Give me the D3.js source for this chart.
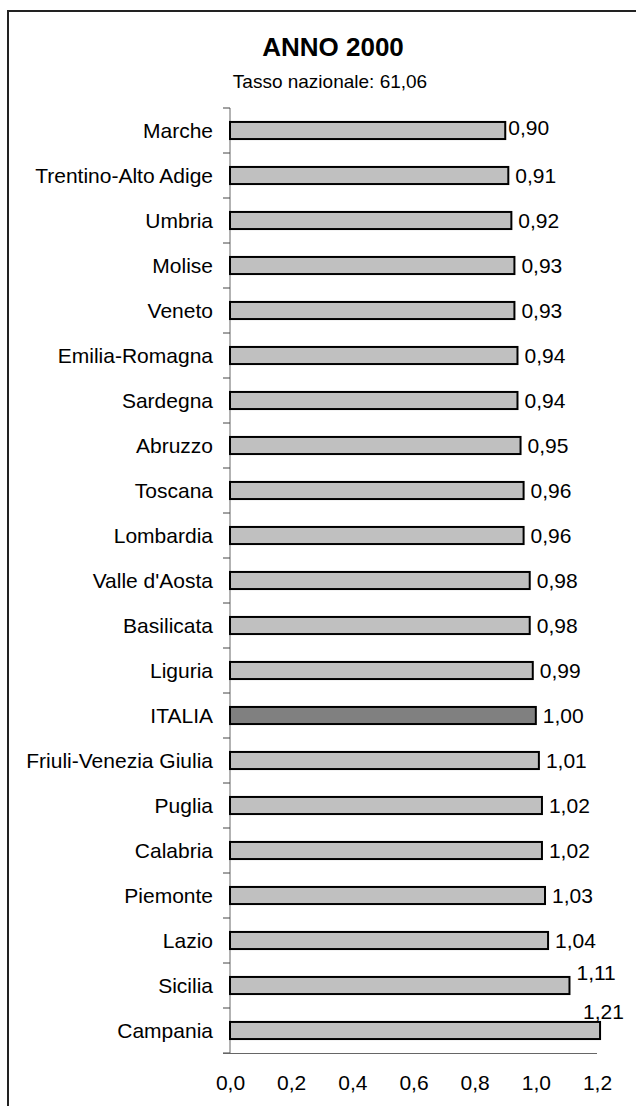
<!DOCTYPE html>
<html>
<head>
<meta charset="utf-8">
<script src="https://cdn.jsdelivr.net/npm/d3@7"></script>
<style>
  body { margin: 0; background: #fff; }
  svg { display: block; font-family: "Liberation Sans", Arial, sans-serif; }
</style>
</head>
<body>
<svg id="chart" width="636" height="1106"></svg>
<script>
// regions, ordered as in the chart (top to bottom)
var regions = ["Marche", "Trentino-Alto Adige", "Umbria", "Molise", "Veneto",
  "Emilia-Romagna", "Sardegna", "Abruzzo", "Toscana", "Lombardia",
  "Valle d'Aosta", "Basilicata", "Liguria", "ITALIA", "Friuli-Venezia Giulia",
  "Puglia", "Calabria", "Piemonte", "Lazio", "Sicilia", "Campania"];

// ratio to the national rate
var values = [0.90, 0.91, 0.92, 0.93, 0.93, 0.94, 0.94, 0.95, 0.96, 0.96,
  0.98, 0.98, 0.99, 1.00, 1.01, 1.02, 1.02, 1.03, 1.04, 1.11, 1.21];

var xTicks = [0, 0.2, 0.4, 0.6, 0.8, 1.0, 1.2];

var title = "ANNO 2000";
var subtitle = "Tasso nazionale: 61,06";

var data = regions.map(function (r, i) { return { name: r, value: values[i] }; });

var svg = d3.select("#chart");

// outer frame (only top and left edges show inside the picture)
svg.append("rect")
  .attr("x", 8).attr("y", 11)
  .attr("width", 800).attr("height", 1300)
  .attr("fill", "none")
  .attr("stroke", "#222")
  .attr("stroke-width", 2);

// titles
svg.append("text")
  .attr("x", 333).attr("y", 56)
  .attr("text-anchor", "middle")
  .attr("font-size", 26)
  .attr("font-weight", "bold")
  .text(title);

svg.append("text")
  .attr("x", 330).attr("y", 88)
  .attr("text-anchor", "middle")
  .attr("font-size", 19)
  .text(subtitle);

// scales
var x = d3.scaleLinear().domain([0, 1.2]).range([230, 597]);
var y = d3.scaleBand().domain(regions).range([108, 1053])
  .paddingInner(0.62).paddingOuter(0.31);

var comma = function (f) { return function (v) { return d3.format(f)(v).replace(".", ","); }; };

// y axis: line plus ticks between categories
var bounds = regions.map(function (r) { return y(r) - y.step() * y.paddingInner() / 2; });
bounds.push(1053);
svg.append("line")
  .attr("x1", 230).attr("x2", 230)
  .attr("y1", 108).attr("y2", 1053)
  .attr("stroke", "#666").attr("stroke-width", 1);
svg.selectAll(".ytick")
  .data(bounds)
  .enter()
  .append("line")
  .attr("class", "ytick")
  .attr("x1", 223).attr("x2", 230)
  .attr("y1", function (d) { return d; })
  .attr("y2", function (d) { return d; })
  .attr("stroke", "#444").attr("stroke-width", 1);

// category labels
svg.selectAll(".cat")
  .data(data)
  .enter()
  .append("text")
  .attr("class", "cat")
  .attr("x", 213)
  .attr("y", function (d) { return y(d.name) + y.bandwidth() / 2; })
  .attr("dy", "0.35em")
  .attr("text-anchor", "end")
  .attr("font-size", 21)
  .text(function (d) { return d.name; });

// x axis
var xAxis = svg.append("g")
  .attr("transform", "translate(0,1053)")
  .call(d3.axisBottom(x).tickValues(xTicks).tickSize(0).tickPadding(22).tickFormat(comma(".1f")));
xAxis.select(".domain").attr("d", "M223,0.5H597").attr("stroke", "#666");
xAxis.selectAll("text")
  .attr("font-size", 21)
  .attr("font-family", "Liberation Sans, Arial, sans-serif")
  .attr("fill", "#000");

// bars
svg.selectAll(".bar")
  .data(data)
  .enter()
  .append("rect")
  .attr("class", "bar")
  .attr("x", x(0))
  .attr("y", function (d) { return y(d.name); })
  .attr("width", function (d) { return x(d.value) - x(0); })
  .attr("height", y.bandwidth())
  .attr("fill", function (d) { return d.name === "ITALIA" ? "#808080" : "#c0c0c0"; })
  .attr("stroke", "#000")
  .attr("stroke-width", 2);

// value labels; a few sit nudged like in the original
var nudge = { "Marche": [-4, -3], "Sicilia": [0, -13], "Campania": [-24, -19] };
svg.selectAll(".val")
  .data(data)
  .enter()
  .append("text")
  .attr("class", "val")
  .attr("x", function (d) { return x(d.value) + 7 + (nudge[d.name] ? nudge[d.name][0] : 0); })
  .attr("y", function (d) { return y(d.name) + y.bandwidth() / 2 + (nudge[d.name] ? nudge[d.name][1] : 0); })
  .attr("dy", "0.35em")
  .attr("font-size", 21)
  .text(function (d) { return comma(".2f")(d.value); });
</script>
</body>
</html>
